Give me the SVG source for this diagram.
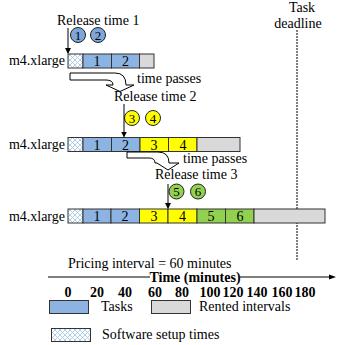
<svg xmlns="http://www.w3.org/2000/svg" width="338" height="345" viewBox="0 0 338 345" font-family="Liberation Serif, serif" font-size="14">
  <style>
    text { fill: #000; }
    .b { font-weight: bold; }
    .mid { text-anchor: middle; }
    .end { text-anchor: end; }
    .bar { stroke: #333; stroke-width: 1; }
    .task { fill: #8DB3E2; }
    .yel { fill: #FFFF00; }
    .grn { fill: #92D050; }
    .rent { fill: #D9D9D9; }
    .setup { fill: url(#hatch); }
    .circ { stroke: #222; stroke-width: 1; }
    .cnum { font-size: 13px; text-anchor: middle; }
    .arr { stroke: #000; stroke-width: 1; fill: none; marker-end: url(#tip); }
    .bend { fill: #fff; stroke: #000; stroke-width: 1; }
  </style>
  <defs>
    <pattern id="hatch" width="5" height="5" patternUnits="userSpaceOnUse">
      <rect width="5" height="5" fill="#fff"/>
      <path d="M0,0 L5,5 M5,0 L0,5" stroke="#9DC3E6" stroke-width="0.8"/>
    </pattern>
    <marker id="tip" markerWidth="6" markerHeight="6" refX="5" refY="3" orient="auto" markerUnits="userSpaceOnUse">
      <path d="M0,0 L6,3 L0,6 Z" fill="#000"/>
    </marker>
  </defs>

  <!-- deadline -->
  <g id="deadline">
    <text class="mid" x="302" y="12">Task</text>
    <text class="mid" x="298" y="28">deadline</text>
    <line x1="297" y1="30" x2="297" y2="260" stroke="#000" stroke-width="1" stroke-dasharray="2,1"/>
  </g>

  <!-- row 1 -->
  <g id="release1">
    <text x="57" y="25">Release time 1</text>
    <circle class="circ" cx="78" cy="35" r="7.5" fill="#7EA6DA"/>
    <text class="cnum" x="78" y="39.5">1</text>
    <circle class="circ" cx="98" cy="35" r="7.5" fill="#7EA6DA"/>
    <text class="cnum" x="98" y="39.5">2</text>
  </g>
  <g id="row1">
    <text class="end" x="65" y="65">m4.xlarge</text>
    <rect class="bar setup" x="68" y="54" width="15" height="14"/>
    <rect class="bar task" x="83" y="54" width="28.5" height="14"/>
    <rect class="bar task" x="111.5" y="54" width="28" height="14"/>
    <rect class="bar rent" x="139.5" y="54" width="14.5" height="14"/>
    <text class="mid" x="97" y="66">1</text>
    <text class="mid" x="125.5" y="66">2</text>
  </g>

  <!-- row 2 -->
  <g id="release2">
    <text x="114" y="101">Release time 2</text>
    <circle class="circ yel" cx="132" cy="118" r="7.5"/>
    <text class="cnum" x="132" y="122.5">3</text>
    <circle class="circ yel" cx="153" cy="118" r="7.5"/>
    <text class="cnum" x="153" y="122.5">4</text>
  </g>
  <g id="row2">
    <text class="end" x="65" y="149">m4.xlarge</text>
    <rect class="bar setup" x="68" y="137.5" width="15" height="14"/>
    <rect class="bar task" x="83" y="137.5" width="28.5" height="14"/>
    <rect class="bar task" x="111.5" y="137.5" width="28.5" height="14"/>
    <rect class="bar yel" x="140" y="137.5" width="28.5" height="14"/>
    <rect class="bar yel" x="168.5" y="137.5" width="28.5" height="14"/>
    <rect class="bar rent" x="197" y="137.5" width="43" height="14"/>
    <text class="mid" x="97" y="149.5">1</text>
    <text class="mid" x="125.5" y="149.5">2</text>
    <text class="mid" x="154" y="149.5">3</text>
    <text class="mid" x="183" y="149.5">4</text>
  </g>

  <!-- row 3 -->
  <g id="release3">
    <text x="155" y="179">Release time 3</text>
    <circle class="circ grn" cx="176.5" cy="191.5" r="7.5"/>
    <text class="cnum" x="176.5" y="196">5</text>
    <circle class="circ grn" cx="198" cy="191.5" r="7.5"/>
    <text class="cnum" x="198" y="196">6</text>
  </g>
  <g id="row3">
    <text class="end" x="65" y="221">m4.xlarge</text>
    <rect class="bar setup" x="68" y="209" width="15" height="14"/>
    <rect class="bar task" x="83" y="209" width="28" height="14"/>
    <rect class="bar task" x="111" y="209" width="28.5" height="14"/>
    <rect class="bar yel" x="139.5" y="209" width="28.5" height="14"/>
    <rect class="bar yel" x="168" y="209" width="29" height="14"/>
    <rect class="bar grn" x="197" y="209" width="28.5" height="14"/>
    <rect class="bar grn" x="225.5" y="209" width="28.5" height="14"/>
    <rect class="bar rent" x="254" y="209" width="71" height="14"/>
    <text class="mid" x="97" y="221">1</text>
    <text class="mid" x="125" y="221">2</text>
    <text class="mid" x="154" y="221">3</text>
    <text class="mid" x="182.5" y="221">4</text>
    <text class="mid" x="211" y="221">5</text>
    <text class="mid" x="240" y="221">6</text>
  </g>

  <!-- connectors -->
  <g id="connectors">
    <line class="arr" x1="68" y1="28" x2="68" y2="53"/>
    <line class="arr" x1="124" y1="104" x2="124" y2="136.5"/>
    <line class="arr" x1="168" y1="184" x2="168" y2="208"/>
    <path class="bend" d="M70,73 L115,73 Q126,73 126,85 L134,85 L120,91.5 L106,85 L113,85 Q113,80 106,80 L70,80 Z"/>
    <text x="137" y="83">time passes</text>
    <path class="bend" d="M127,152 L158,152 Q169,152 169,163 L179,163 L168,170 L157,163 L155,163 Q155,158 149,158 L127,158 Z"/>
    <text x="183" y="163">time passes</text>
  </g>

  <!-- time axis -->
  <g id="axis">
    <text x="68" y="268">Pricing interval = 60 minutes</text>
    <line x1="48" y1="277" x2="150" y2="277" stroke="#000" stroke-width="1"/>
    <line x1="240" y1="277" x2="330" y2="277" stroke="#000" stroke-width="1"/>
    <path d="M329,274.5 L336,277 L329,279.5 Z" fill="#000"/>
    <text class="b mid" x="195" y="281.5">Time (minutes)</text>
    <text class="b mid" x="68" y="297">0</text>
    <text class="b mid" x="97" y="297">20</text>
    <text class="b mid" x="125" y="297">40</text>
    <text class="b mid" x="155" y="297">60</text>
    <text class="b mid" x="182" y="297">80</text>
    <text class="b mid" x="210" y="297">100</text>
    <text class="b mid" x="233" y="297">120</text>
    <text class="b mid" x="257" y="297">140</text>
    <text class="b mid" x="282" y="297">160</text>
    <text class="b mid" x="305" y="297">180</text>
  </g>

  <!-- legend -->
  <g id="legend">
    <rect class="bar task" x="49.5" y="300.5" width="39" height="13"/>
    <text x="101" y="311">Tasks</text>
    <rect class="bar rent" x="151.5" y="300.5" width="39" height="13"/>
    <text x="199" y="311">Rented intervals</text>
    <rect class="bar setup" x="51.5" y="328.5" width="39" height="13"/>
    <text x="102" y="339">Software setup times</text>
  </g>
</svg>
